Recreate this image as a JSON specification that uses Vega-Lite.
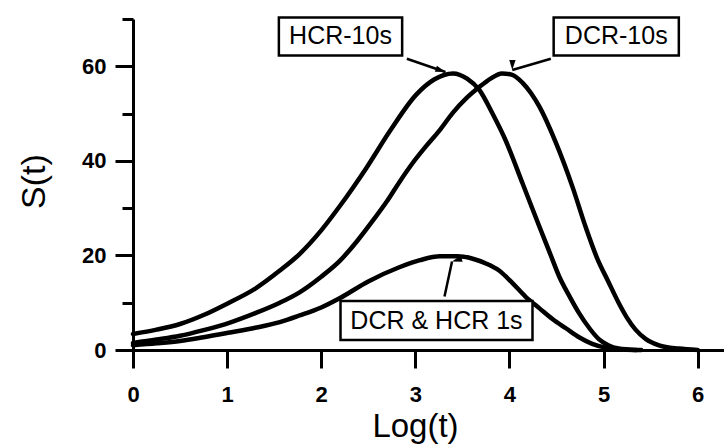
{
  "$schema": "https://vega.github.io/schema/vega-lite/v6.json",
  "width": 591,
  "height": 331,
  "autosize": {"type": "none"},
  "padding": {"left": 133, "top": 19, "right": 0, "bottom": 96},
  "background": "white",
  "config": {"view": {"stroke": null}, "font": "Liberation Sans"},
  "datasets": {
    "curves": [
      {"series": "HCR-10s", "x": 0, "y": 3.4},
      {"series": "HCR-10s", "x": 0.25, "y": 4.3},
      {"series": "HCR-10s", "x": 0.5, "y": 5.5},
      {"series": "HCR-10s", "x": 0.75, "y": 7.4},
      {"series": "HCR-10s", "x": 1.0, "y": 9.8},
      {"series": "HCR-10s", "x": 1.3, "y": 13.0},
      {"series": "HCR-10s", "x": 1.56, "y": 16.8},
      {"series": "HCR-10s", "x": 1.77, "y": 20.3},
      {"series": "HCR-10s", "x": 2.0, "y": 25.3},
      {"series": "HCR-10s", "x": 2.2, "y": 30.5},
      {"series": "HCR-10s", "x": 2.48, "y": 38.5},
      {"series": "HCR-10s", "x": 2.73, "y": 46.3},
      {"series": "HCR-10s", "x": 3.01, "y": 54.0},
      {"series": "HCR-10s", "x": 3.2, "y": 57.2},
      {"series": "HCR-10s", "x": 3.4, "y": 58.5},
      {"series": "HCR-10s", "x": 3.55, "y": 57.4},
      {"series": "HCR-10s", "x": 3.68, "y": 55.0},
      {"series": "HCR-10s", "x": 3.82, "y": 50.0},
      {"series": "HCR-10s", "x": 3.96, "y": 44.3},
      {"series": "HCR-10s", "x": 4.14, "y": 35.2},
      {"series": "HCR-10s", "x": 4.32, "y": 26.0},
      {"series": "HCR-10s", "x": 4.43, "y": 20.5},
      {"series": "HCR-10s", "x": 4.53, "y": 15.5},
      {"series": "HCR-10s", "x": 4.64, "y": 11.3},
      {"series": "HCR-10s", "x": 4.74, "y": 7.8},
      {"series": "HCR-10s", "x": 4.85, "y": 4.6},
      {"series": "HCR-10s", "x": 4.95, "y": 2.3},
      {"series": "HCR-10s", "x": 5.05, "y": 1.0},
      {"series": "HCR-10s", "x": 5.16, "y": 0.3},
      {"series": "HCR-10s", "x": 5.35, "y": 0},
      {"series": "DCR-10s", "x": 0, "y": 1.5},
      {"series": "DCR-10s", "x": 0.25, "y": 2.2},
      {"series": "DCR-10s", "x": 0.5, "y": 3.0},
      {"series": "DCR-10s", "x": 0.75, "y": 4.2},
      {"series": "DCR-10s", "x": 1.03, "y": 5.8},
      {"series": "DCR-10s", "x": 1.3, "y": 7.8},
      {"series": "DCR-10s", "x": 1.56, "y": 10.0},
      {"series": "DCR-10s", "x": 1.77, "y": 12.2},
      {"series": "DCR-10s", "x": 2.0, "y": 15.5},
      {"series": "DCR-10s", "x": 2.2, "y": 18.9},
      {"series": "DCR-10s", "x": 2.38, "y": 23.0},
      {"series": "DCR-10s", "x": 2.55, "y": 27.4},
      {"series": "DCR-10s", "x": 2.7, "y": 31.5},
      {"series": "DCR-10s", "x": 2.83, "y": 35.5},
      {"series": "DCR-10s", "x": 2.97, "y": 39.5},
      {"series": "DCR-10s", "x": 3.11, "y": 43.0},
      {"series": "DCR-10s", "x": 3.26, "y": 46.5},
      {"series": "DCR-10s", "x": 3.4, "y": 50.2},
      {"series": "DCR-10s", "x": 3.54, "y": 53.2},
      {"series": "DCR-10s", "x": 3.68, "y": 55.6},
      {"series": "DCR-10s", "x": 3.8, "y": 57.4},
      {"series": "DCR-10s", "x": 3.92, "y": 58.5},
      {"series": "DCR-10s", "x": 4.03, "y": 58.2},
      {"series": "DCR-10s", "x": 4.14, "y": 56.5},
      {"series": "DCR-10s", "x": 4.23, "y": 54.3},
      {"series": "DCR-10s", "x": 4.32, "y": 51.4},
      {"series": "DCR-10s", "x": 4.49, "y": 44.0},
      {"series": "DCR-10s", "x": 4.67, "y": 34.5},
      {"series": "DCR-10s", "x": 4.81, "y": 26.0},
      {"series": "DCR-10s", "x": 4.93, "y": 19.5},
      {"series": "DCR-10s", "x": 5.05, "y": 14.5},
      {"series": "DCR-10s", "x": 5.16, "y": 10.0},
      {"series": "DCR-10s", "x": 5.25, "y": 6.8},
      {"series": "DCR-10s", "x": 5.34, "y": 4.3},
      {"series": "DCR-10s", "x": 5.45, "y": 2.3},
      {"series": "DCR-10s", "x": 5.59, "y": 1.0},
      {"series": "DCR-10s", "x": 5.8, "y": 0.3},
      {"series": "DCR-10s", "x": 6.0, "y": 0},
      {"series": "DCR & HCR 1s", "x": 0, "y": 1.0},
      {"series": "DCR & HCR 1s", "x": 0.25, "y": 1.4},
      {"series": "DCR & HCR 1s", "x": 0.5, "y": 1.9},
      {"series": "DCR & HCR 1s", "x": 0.75, "y": 2.7},
      {"series": "DCR & HCR 1s", "x": 1.03, "y": 3.7},
      {"series": "DCR & HCR 1s", "x": 1.3, "y": 4.7},
      {"series": "DCR & HCR 1s", "x": 1.56, "y": 5.9},
      {"series": "DCR & HCR 1s", "x": 1.77, "y": 7.3},
      {"series": "DCR & HCR 1s", "x": 2.0, "y": 9.0},
      {"series": "DCR & HCR 1s", "x": 2.2, "y": 11.0},
      {"series": "DCR & HCR 1s", "x": 2.5, "y": 14.5},
      {"series": "DCR & HCR 1s", "x": 2.83, "y": 17.5},
      {"series": "DCR & HCR 1s", "x": 3.05, "y": 19.0},
      {"series": "DCR & HCR 1s", "x": 3.26, "y": 19.8},
      {"series": "DCR & HCR 1s", "x": 3.45, "y": 19.8},
      {"series": "DCR & HCR 1s", "x": 3.61, "y": 19.3},
      {"series": "DCR & HCR 1s", "x": 3.75, "y": 18.3},
      {"series": "DCR & HCR 1s", "x": 3.89, "y": 16.8},
      {"series": "DCR & HCR 1s", "x": 4.03, "y": 14.2},
      {"series": "DCR & HCR 1s", "x": 4.17, "y": 11.3},
      {"series": "DCR & HCR 1s", "x": 4.32, "y": 8.8},
      {"series": "DCR & HCR 1s", "x": 4.46, "y": 6.5},
      {"series": "DCR & HCR 1s", "x": 4.6, "y": 4.6},
      {"series": "DCR & HCR 1s", "x": 4.74, "y": 2.7},
      {"series": "DCR & HCR 1s", "x": 4.88, "y": 1.3},
      {"series": "DCR & HCR 1s", "x": 5.02, "y": 0.5},
      {"series": "DCR & HCR 1s", "x": 5.2, "y": 0.1},
      {"series": "DCR & HCR 1s", "x": 5.4, "y": 0}
    ],
    "notes": [
      {"label": "HCR-10s", "bx": 1.55, "bx2": 2.86, "by": 70.3, "by2": 62.3, "tx": 2.205, "ty": 66.3, "ax": 2.91, "ay": 61.6, "ax2": 3.32, "ay2": 58.8},
      {"label": "DCR-10s", "bx": 4.47, "bx2": 5.8, "by": 70.3, "by2": 62.3, "tx": 5.135, "ty": 66.3, "ax": 4.44, "ay": 61.6, "ax2": 4.03, "ay2": 59.2},
      {"label": "DCR & HCR 1s", "bx": 2.205, "bx2": 4.245, "by": 10.35, "by2": 2.1, "tx": 3.225, "ty": 6.2, "ax": 3.31, "ay": 11.3, "ax2": 3.39, "ay2": 18.7}
    ]
  },
  "layer": [
    {
      "data": {"name": "curves"},
      "mark": {"type": "line", "color": "black", "strokeWidth": 4.5, "interpolate": "monotone", "strokeCap": "round", "strokeJoin": "round"},
      "encoding": {
        "x": {
          "field": "x", "type": "quantitative",
          "scale": {"domain": [0, 6.28], "nice": false, "zero": false},
          "axis": {
            "values": [0, 1, 2, 3, 4, 5, 6],
            "format": "d",
            "grid": false, "labelFlush": false,
            "domainColor": "black", "domainWidth": 3,
            "tickColor": "black", "tickWidth": 3, "tickSize": 18,
            "labelColor": "black", "labelFontSize": 22, "labelFontWeight": "bold", "labelPadding": 16,
            "title": "Log(t)", "titleFontSize": 33, "titleFontWeight": "normal", "titleColor": "black",
            "titleX": 282, "titleY": 86, "titleBaseline": "alphabetic", "titleAlign": "center"
          }
        },
        "y": {
          "field": "y", "type": "quantitative",
          "scale": {"domain": [0, 70], "nice": false, "zero": false},
          "axis": {
            "values": [0, 10, 20, 30, 40, 50, 60, 70],
            "labelExpr": "datum.value % 20 === 0 ? datum.label : ''",
            "grid": false,
            "domainColor": "black", "domainWidth": 3,
            "tickColor": "black", "tickWidth": 3,
            "tickSize": {"condition": {"test": "datum.value % 20 === 0", "value": 18}, "value": 11},
            "labelColor": "black", "labelFontSize": 22, "labelFontWeight": "bold", "labelPadding": 9,
            "title": "S(t)", "titleFontSize": 34, "titleFontWeight": "normal", "titleColor": "black",
            "titleX": -89, "titleY": 162, "titleBaseline": "alphabetic", "titleAlign": "center"
          }
        },
        "detail": {"field": "series"}
      }
    },
    {
      "data": {"name": "notes"},
      "mark": {"type": "rule", "color": "black", "strokeWidth": 2.5},
      "encoding": {
        "x": {"field": "ax", "type": "quantitative"},
        "y": {"field": "ay", "type": "quantitative"},
        "x2": {"field": "ax2"},
        "y2": {"field": "ay2"}
      }
    },
    {
      "data": {"name": "notes"},
      "mark": {"type": "point", "shape": "M0,0 L-0.5,1.6 L0.5,1.6 Z", "filled": true, "color": "black", "opacity": 1, "size": 160},
      "encoding": {
        "x": {"field": "ax2", "type": "quantitative"},
        "y": {"field": "ay2", "type": "quantitative"},
        "angle": {
          "field": "label", "type": "nominal",
          "scale": {"domain": ["HCR-10s", "DCR-10s", "DCR & HCR 1s"], "range": [109, 253, 12]},
          "legend": null
        }
      }
    },
    {
      "data": {"name": "notes"},
      "mark": {"type": "rect", "fill": "white", "stroke": "black", "strokeWidth": 2.5},
      "encoding": {
        "x": {"field": "bx", "type": "quantitative"},
        "x2": {"field": "bx2"},
        "y": {"field": "by", "type": "quantitative"},
        "y2": {"field": "by2"}
      }
    },
    {
      "data": {"name": "notes"},
      "mark": {"type": "text", "fontSize": 25, "color": "black", "align": "center", "baseline": "middle"},
      "encoding": {
        "x": {"field": "tx", "type": "quantitative"},
        "y": {"field": "ty", "type": "quantitative"},
        "text": {"field": "label"}
      }
    }
  ]
}
